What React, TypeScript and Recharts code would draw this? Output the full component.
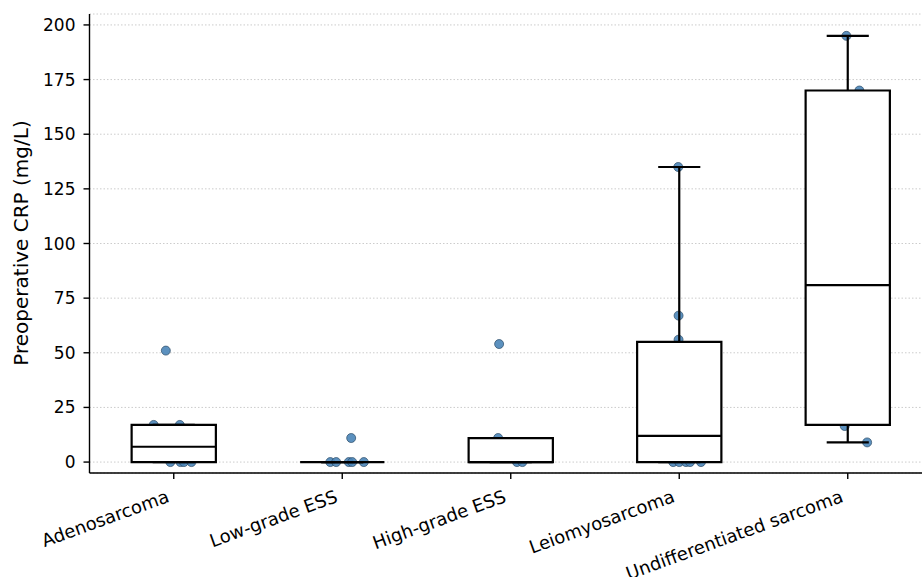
import { ScatterChart, CartesianGrid, XAxis, YAxis, Scatter, ReferenceArea, ReferenceLine } from 'recharts'

const categories = ['Adenosarcoma', 'Low-grade ESS', 'High-grade ESS', 'Leiomyosarcoma', 'Undifferentiated sarcoma']

// box stats per category: [whiskerLow, q1, median, q3, whiskerHigh]
const boxStats = [
  [0, 0, 7, 17, 17],
  [0, 0, 0, 0, 0],
  [0, 0, 0, 11, 11],
  [0, 0, 12, 55, 135],
  [9, 17, 81, 170, 195],
]

const adenoValues = [51, 17, 17, 0, 0, 0, 0]
const adenoJitter = [-0.047, -0.119, 0.036, -0.02, 0.04, 0.06, 0.105]
const lowEssValues = [11, 0, 0, 0, 0, 0]
const lowEssJitter = [0.053, -0.071, -0.036, 0.039, 0.059, 0.128]
const highEssValues = [54, 11, 0, 0]
const highEssJitter = [-0.069, -0.075, 0.037, 0.069]
const leioValues = [135, 67, 56, 0, 0, 0, 0, 0]
const leioJitter = [-0.006, -0.004, -0.004, -0.036, 0, 0.04, 0.064, 0.129]
const undiffValues = [195, 170, 16.5, 9]
const undiffJitter = [-0.008, 0.069, -0.018, 0.115]

const yTicks = [0, 25, 50, 75, 100, 125, 150, 175, 200]

const groups = [
  [adenoValues, adenoJitter],
  [lowEssValues, lowEssJitter],
  [highEssValues, highEssJitter],
  [leioValues, leioJitter],
  [undiffValues, undiffJitter],
]

const points = groups.flatMap(([vals, jit], i) =>
  vals.map((v, k) => ({ x: i + jit[k], y: v }))
)

const font = 'DejaVu Sans, sans-serif'
const BOX_HALF = 0.25
const CAP_HALF = 0.125

function XTick(props: any) {
  const { x, y, payload } = props
  const ax = x - 3.5
  const ay = y + 20.5
  return (
    <text
      x={ax}
      y={ay}
      transform={`rotate(-20, ${ax}, ${ay})`}
      textAnchor="end"
      fontSize={18}
      fontFamily={font}
      fill="#000"
    >
      {categories[payload.value]}
    </text>
  )
}

function Dot(props: any) {
  const { cx, cy } = props
  return <circle cx={cx} cy={cy} r={4.5} fill="#4a85b8" fillOpacity={0.9} stroke="#2b4a66" strokeWidth={0.7} />
}

export default function App() {
  return (
    <div style={{ position: 'absolute', left: 0, top: 0, width: 922, height: 577, overflow: 'hidden', background: '#fff' }}>
      <ScatterChart width={940} height={577} margin={{ top: 14, right: 8, bottom: 0, left: 0 }}>
        <CartesianGrid horizontal vertical={false} stroke="#cccccc" strokeDasharray="1.5 2" />
        <XAxis
          type="number"
          dataKey="x"
          domain={[-0.5, 4.5]}
          ticks={[0, 1, 2, 3, 4]}
          allowDataOverflow
          height={104}
          tick={<XTick />}
          tickSize={6}
          stroke="#000"
          axisLine={{ stroke: '#000', strokeWidth: 1.4 }}
          tickLine={{ stroke: '#000', strokeWidth: 1.4 }}
        />
        <YAxis
          type="number"
          dataKey="y"
          domain={[-5, 205]}
          ticks={yTicks}
          allowDataOverflow
          width={89.5}
          tickSize={6}
          tickMargin={8}
          tick={{ fontSize: 17, fill: '#000', fontFamily: font }}
          axisLine={{ stroke: '#000', strokeWidth: 1.4 }}
          tickLine={{ stroke: '#000', strokeWidth: 1.4 }}
          label={{
            content: () => (
              <text
                x={28}
                y={243}
                transform="rotate(-90, 28, 243)"
                textAnchor="middle"
                fontSize={20}
                fontFamily={font}
                fill="#000"
              >
                Preoperative CRP (mg/L)
              </text>
            ),
          }}
        />
        <Scatter data={points} isAnimationActive={false} shape={<Dot />} />
        {boxStats.map(([wl, q1, med, q3, wh], i) => (
          <ReferenceLine
            key={`wu${i}`}
            segment={[{ x: i, y: q3 }, { x: i, y: wh }]}
            stroke="#000"
            strokeWidth={2.2}
            zIndex={700}
          />
        ))}
        {boxStats.map(([wl, q1], i) => (
          <ReferenceLine
            key={`wl${i}`}
            segment={[{ x: i, y: wl }, { x: i, y: q1 }]}
            stroke="#000"
            strokeWidth={2.2}
            zIndex={700}
          />
        ))}
        {boxStats.map(([wl, , , , wh], i) => [
          <ReferenceLine
            key={`ch${i}`}
            segment={[{ x: i - CAP_HALF, y: wh }, { x: i + CAP_HALF, y: wh }]}
            stroke="#000"
            strokeWidth={2.2}
            zIndex={700}
          />,
          <ReferenceLine
            key={`cl${i}`}
            segment={[{ x: i - CAP_HALF, y: wl }, { x: i + CAP_HALF, y: wl }]}
            stroke="#000"
            strokeWidth={2.2}
            zIndex={700}
          />,
        ])}
        {boxStats.map(([, q1, , q3], i) => (
          <ReferenceArea
            key={`b${i}`}
            x1={i - BOX_HALF}
            x2={i + BOX_HALF}
            y1={q1}
            y2={q3}
            fill="#ffffff"
            fillOpacity={1}
            stroke="#000"
            strokeWidth={2.2}
            zIndex={710}
          />
        ))}
        {boxStats.map(([, , med], i) => (
          <ReferenceLine
            key={`m${i}`}
            segment={[{ x: i - BOX_HALF, y: med }, { x: i + BOX_HALF, y: med }]}
            stroke="#000"
            strokeWidth={2.2}
            zIndex={720}
          />
        ))}
      </ScatterChart>
    </div>
  )
}
